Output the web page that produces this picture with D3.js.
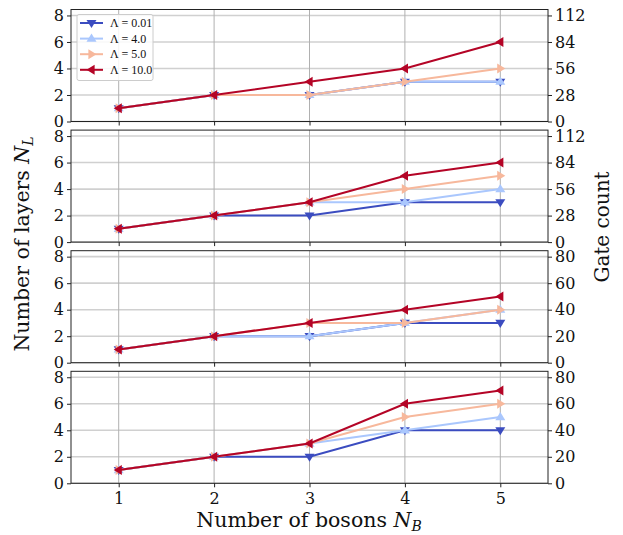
<!DOCTYPE html>
<html><head><meta charset="utf-8">
<script src="https://cdn.jsdelivr.net/npm/d3@7"></script>
<style>body{margin:0;background:#fff}svg{display:block}</style>
</head><body>
<script>
// ---- data ----
const bosons = [1, 2, 3, 4, 5];
const lambdas = ["0.01", "4.0", "5.0", "10.0"];
const colors = ["#3b4cc0", "#aac7fd", "#f7b89c", "#b40426"];
const markers = ["down", "up", "right", "left"];
const leftTicks = [0, 2, 4, 6, 8];
const rightTicksA = [0, 28, 56, 84, 112];
const rightTicksB = [0, 20, 40, 60, 80];
const panel1 = [[1,2,2,3,3],[1,2,2,3,3],[1,2,2,3,4],[1,2,3,4,6]];
const panel2 = [[1,2,2,3,3],[1,2,3,3,4],[1,2,3,4,5],[1,2,3,5,6]];
const panel3 = [[1,2,2,3,3],[1,2,2,3,4],[1,2,3,3,4],[1,2,3,4,5]];
const panel4 = [[1,2,2,4,4],[1,2,3,4,5],[1,2,3,5,6],[1,2,3,6,7]];
const panels = [panel1, panel2, panel3, panel4];
const gateFactor = [14, 14, 10, 10];
const rightTickSets = [rightTicksA, rightTicksA, rightTicksB, rightTicksB];

const W = 623, H = 535;
const svg = d3.select("body").append("svg").attr("width", W).attr("height", H);
const left = 71, right = 548;
const panelH = 112, step = 120.6, top0 = 9.5;
const yMax = 8.45;
const font = "DejaVu Serif, serif";

const x = d3.scaleLinear().domain([0.5, 5.5]).range([left, right]);

function markerPath(type, s) {
  const a = s, b = s * 0.62;
  switch (type) {
    case "down": return `M${-a},${-b}L${a},${-b}L0,${a}Z`;
    case "up": return `M${-a},${b}L${a},${b}L0,${-a}Z`;
    case "right": return `M${-b},${-a}L${-b},${a}L${a},0Z`;
    case "left": return `M${b},${-a}L${b},${a}L${-a},0Z`;
  }
}

panels.forEach((pdata, pi) => {
  const top = top0 + pi * step, bottom = top + panelH;
  const y = d3.scaleLinear().domain([0, yMax]).range([bottom, top]);
  const yR = d3.scaleLinear().domain([0, yMax * gateFactor[pi]]).range([bottom, top]);
  const g = svg.append("g");

  // grid
  g.append("g").selectAll("line").data(leftTicks).join("line")
    .attr("x1", left).attr("x2", right).attr("y1", d => y(d)).attr("y2", d => y(d))
    .attr("stroke", "#d0d0d0").attr("stroke-width", 1.6);
  g.append("g").selectAll("line").data(bosons).join("line")
    .attr("x1", d => x(d)).attr("x2", d => x(d)).attr("y1", top).attr("y2", bottom)
    .attr("stroke", "#b0b0b0").attr("stroke-width", 1);

  // series
  pdata.forEach((vals, si) => {
    const pts = bosons.map((b, i) => [b, vals[i]]);
    g.append("path").datum(pts)
      .attr("fill", "none").attr("stroke", colors[si]).attr("stroke-width", 2)
      .attr("d", d3.line().x(d => x(d[0])).y(d => y(d[1])));
    g.append("g").selectAll("path").data(pts).join("path")
      .attr("transform", d => `translate(${x(d[0])},${y(d[1])})`)
      .attr("d", markerPath(markers[si], 5))
      .attr("fill", colors[si]);
  });

  // frame
  g.append("rect").attr("x", left).attr("y", top).attr("width", right - left).attr("height", panelH)
    .attr("fill", "none").attr("stroke", "#222").attr("stroke-width", 1);

  // axes
  const ya = g.append("g").attr("transform", `translate(${left},0)`)
    .call(d3.axisLeft(y).tickValues(leftTicks).tickSize(4).tickPadding(3));
  const yr = g.append("g").attr("transform", `translate(${right},0)`)
    .call(d3.axisRight(yR).tickValues(rightTickSets[pi]).tickSize(4).tickPadding(3));
  const xa = g.append("g").attr("transform", `translate(0,${bottom})`)
    .call(d3.axisBottom(x).tickValues(bosons).tickSize(4).tickPadding(5)
      .tickFormat(pi === 3 ? d3.format("d") : () => ""));
  [ya, yr, xa].forEach(a => {
    a.select(".domain").remove();
    a.selectAll("line").attr("stroke", "#222");
    a.selectAll("text").attr("font-family", font).attr("font-size", 16).attr("fill", "#111");
  });
});

// axis labels
const xl = svg.append("text").attr("x", 309).attr("y", 527).attr("text-anchor", "middle")
  .attr("font-family", font).attr("font-size", 20.5).attr("fill", "#111");
xl.append("tspan").text("Number of bosons ");
xl.append("tspan").attr("font-style", "italic").text("N");
xl.append("tspan").attr("font-style", "italic").attr("font-size", 14).attr("dy", 4).text("B");

const yl = svg.append("text").attr("transform", "translate(29,244) rotate(-90)").attr("text-anchor", "middle")
  .attr("font-family", font).attr("font-size", 20.5).attr("fill", "#111");
yl.append("tspan").text("Number of layers ");
yl.append("tspan").attr("font-style", "italic").text("N");
yl.append("tspan").attr("font-style", "italic").attr("font-size", 14).attr("dy", 4).text("L");

svg.append("text").attr("transform", "translate(609,227) rotate(-90)").attr("text-anchor", "middle")
  .attr("font-family", font).attr("font-size", 20).attr("fill", "#111").text("Gate count");

// legend
const lg = svg.append("g");
lg.append("rect").attr("x", 77).attr("y", 14.5).attr("width", 76).attr("height", 66).attr("rx", 2)
  .attr("fill", "#fff").attr("fill-opacity", 0.85).attr("stroke", "#ccc");
lambdas.forEach((l, i) => {
  const yy = 23 + i * 15.6;
  lg.append("line").attr("x1", 80).attr("x2", 103).attr("y1", yy).attr("y2", yy)
    .attr("stroke", colors[i]).attr("stroke-width", 2);
  lg.append("path").attr("transform", `translate(91.5,${yy})`).attr("d", markerPath(markers[i], 5)).attr("fill", colors[i]);
  lg.append("text").attr("x", 110).attr("y", yy + 4).attr("font-family", "Liberation Serif, serif")
    .attr("font-size", 12).attr("fill", "#111").text(`Λ = ${l}`);
});
</script>
</body></html>
